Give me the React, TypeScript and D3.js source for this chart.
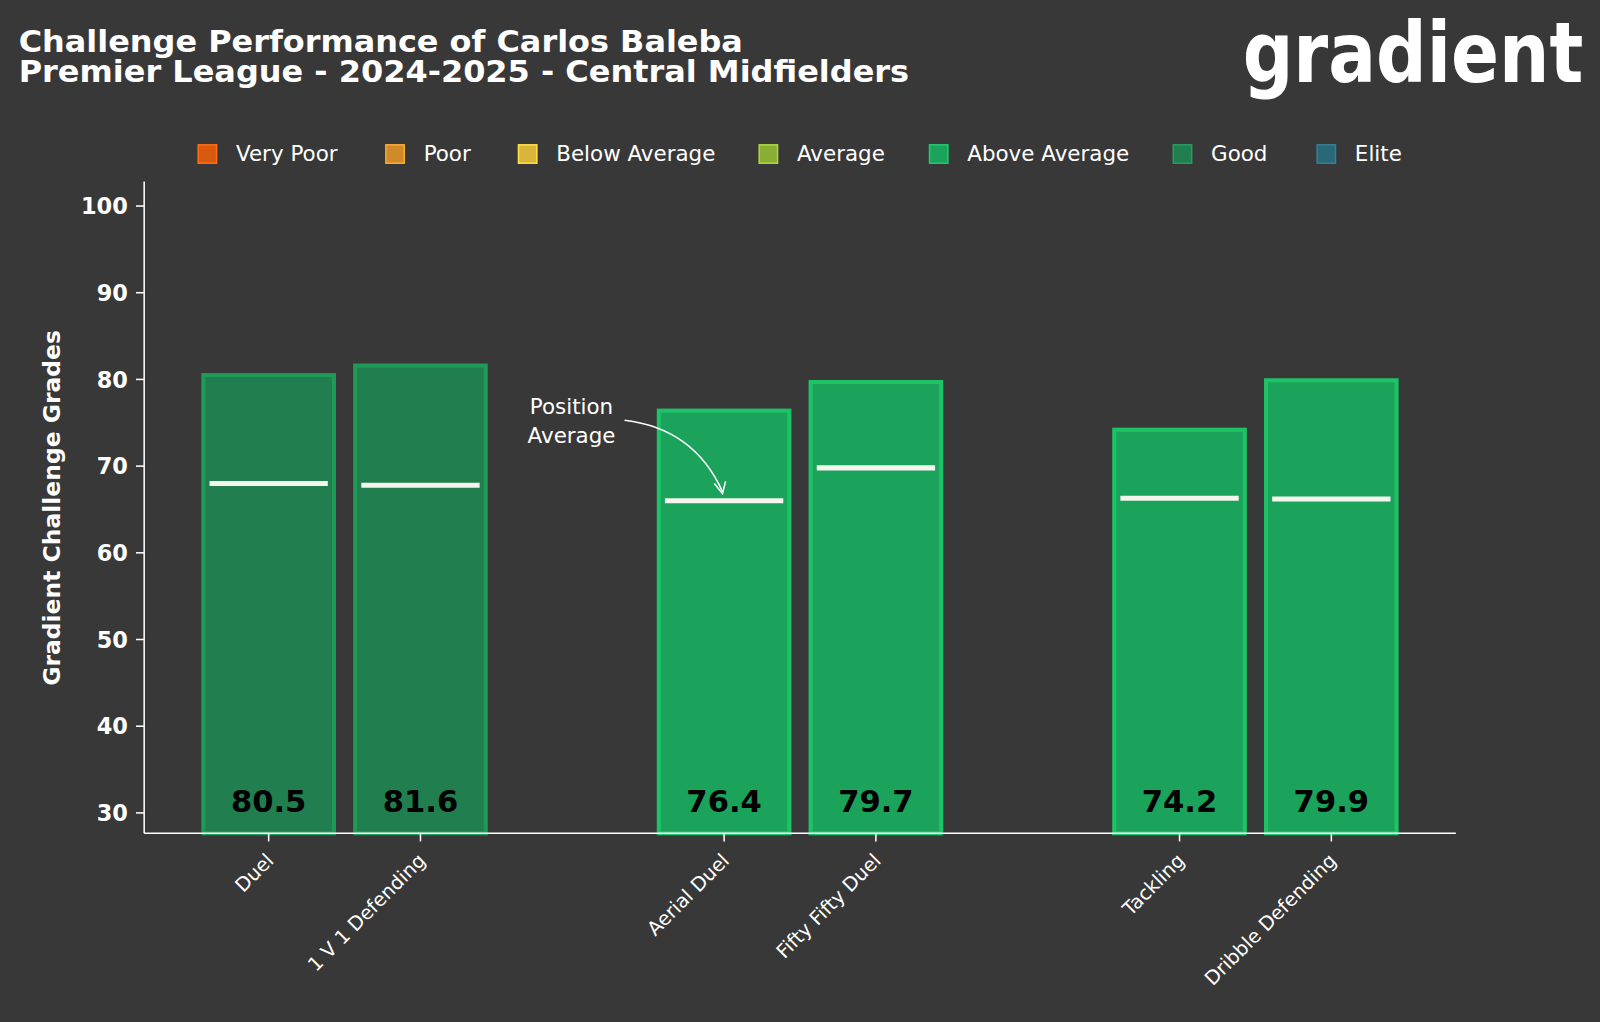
import React from "react";
import * as d3 from "d3";

const categories = ["Duel", "1 V 1 Defending", "Aerial Duel", "Fifty Fifty Duel", "Tackling", "Dribble Defending"];
const positions = [0, 1, 3, 4, 6, 7];
const values = [80.5, 81.6, 76.4, 79.7, 74.2, 79.9];
const averages = [68.0, 67.8, 66.0, 69.8, 66.3, 66.2];
const grades = ["Good", "Good", "Above Average", "Above Average", "Above Average", "Above Average"];
const yTicks = [30, 40, 50, 60, 70, 80, 90, 100];
const legendLabels = ["Very Poor", "Poor", "Below Average", "Average", "Above Average", "Good", "Elite"];
const legendColors = ["#d9590f", "#cf8a2a", "#d9b63a", "#8aae35", "#1ba35c", "#217e4f", "#2a6878"];
const gradeFill: Record<string, string> = { "Good": "#217e4f", "Above Average": "#1ba35c" };
const gradeStroke: Record<string, string> = { "Good": "#1f9a57", "Above Average": "#1ec267" };
const legendX = [194, 378, 508, 744, 911, 1150, 1291];

export default function App() {
  const W = 1568, H = 1002;
  const x = d3.scaleLinear().domain([-0.82, 7.82]).range([141, 1427]);
  const y = d3.scaleLinear().domain([30, 100]).range([797, 202]);
  const bottom = 817, top = 178;
  const bw = 128;
  const font = "'DejaVu Sans', sans-serif";
  return (
    <svg width={1600} height={1022} viewBox={`0 0 ${W} ${H}`} style={{ position: "absolute", left: 0, top: 0, background: "#383838" }}>
      <rect width={W} height={H} fill="#383838" />
      <text x={18} y={51} fill="#fff" fontFamily={font} fontWeight="bold" fontSize={30} textLength={710} lengthAdjust="spacingAndGlyphs">Challenge Performance of Carlos Baleba</text>
      <text x={18} y={80} fill="#fff" fontFamily={font} fontWeight="bold" fontSize={30} textLength={873} lengthAdjust="spacingAndGlyphs">Premier League - 2024-2025 - Central Midfielders</text>
      <text x={1552} y={80} textAnchor="end" fill="#fff" fontFamily={font} fontWeight="bold" fontSize={82} textLength={334} lengthAdjust="spacingAndGlyphs">gradient</text>
      {legendLabels.map((l, i) => (
        <g key={l}>
          <rect x={legendX[i]} y={142} width={18} height={18} fill={legendColors[i]} stroke={d3.color(legendColors[i])!.brighter(0.6).toString()} strokeWidth={1.5} />
          <text x={legendX[i] + 37} y={158} fill="#fff" fontFamily={font} fontSize={21}>{l}</text>
        </g>
      ))}
      {values.map((v, i) => {
        const cx = x(positions[i]);
        return (
          <g key={i}>
            <rect x={cx - bw / 2} y={y(v)} width={bw} height={bottom - y(v)} fill={gradeFill[grades[i]]} stroke={gradeStroke[grades[i]]} strokeWidth={4} />
            <line x1={cx - bw / 2 + 6} x2={cx + bw / 2 - 6} y1={y(averages[i])} y2={y(averages[i])} stroke="#f5f5f0" strokeWidth={5} />
            <text x={cx} y={796} textAnchor="middle" fill="#000" fontFamily={font} fontWeight="bold" fontSize={30}>{v.toFixed(1)}</text>
          </g>
        );
      })}
      <line x1={141} x2={141} y1={top} y2={bottom} stroke="#fff" strokeWidth={1.5} />
      <line x1={141} x2={1427} y1={bottom} y2={bottom} stroke="#fff" strokeWidth={1.5} />
      {yTicks.map(t => (
        <g key={t}>
          <line x1={133} x2={141} y1={y(t)} y2={y(t)} stroke="#fff" strokeWidth={1.5} />
          <text x={125} y={y(t) + 8} textAnchor="end" fill="#fff" fontFamily={font} fontWeight="bold" fontSize={22}>{t}</text>
        </g>
      ))}
      {categories.map((c, i) => {
        const cx = x(positions[i]);
        return (
          <g key={c}>
            <line x1={cx} x2={cx} y1={bottom} y2={bottom + 8} stroke="#fff" strokeWidth={1.5} />
            <text transform={`translate(${cx + 6},${bottom + 28}) rotate(-45)`} textAnchor="end" fill="#fff" fontFamily={font} fontSize={19}>{c}</text>
          </g>
        );
      })}
      <text transform="translate(58,498) rotate(-90)" textAnchor="middle" fill="#fff" fontFamily={font} fontWeight="bold" fontSize={23}>Gradient Challenge Grades</text>
      <text x={560} y={406} textAnchor="middle" fill="#fff" fontFamily={font} fontSize={21}>Position</text>
      <text x={560} y={434} textAnchor="middle" fill="#fff" fontFamily={font} fontSize={21}>Average</text>
      <path d="M612,412 Q680,420 708,482" fill="none" stroke="#fff" strokeWidth={1.5} />
      <path d="M700,474 L708,484 L711,472" fill="none" stroke="#fff" strokeWidth={1.5} />
    </svg>
  );
}
